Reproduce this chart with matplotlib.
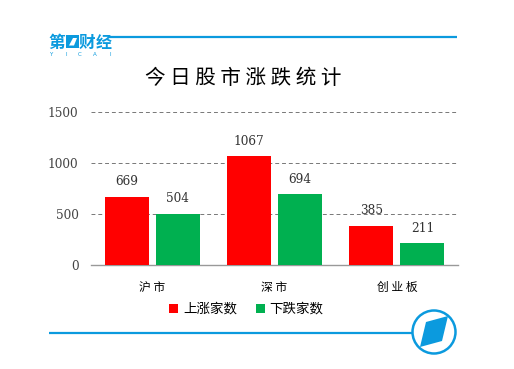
import numpy as np
import matplotlib
matplotlib.use("Agg")
import matplotlib.pyplot as plt
from matplotlib.patches import Circle, Polygon, Rectangle

W, H = 514, 369
CJK = "Noto Sans CJK SC"
SERIF = "DejaVu Serif"
BLUE = "#0b9ade"

categories = ["沪 市", "深 市", "创 业 板"]
up_counts = [669, 1067, 385]
down_counts = [504, 694, 211]
yticks = [0, 500, 1000, 1500]

fig = plt.figure(figsize=(W / 100, H / 100), dpi=100, facecolor="white")

# full-figure overlay in pixel coords, for the logo and the rules
bg = fig.add_axes([0, 0, 1, 1])
bg.set_xlim(0, W)
bg.set_ylim(H, 0)
bg.axis("off")

# --- header / footer rules ---
bg.plot([108, 457], [36.5, 36.5], color=BLUE, lw=1.6, solid_capstyle="butt")
bg.plot([49, 413], [333, 333], color=BLUE, lw=1.6, solid_capstyle="butt")

# --- top left logo ---
bg.text(56.5, 43, "第", family=CJK, fontsize=12, weight="bold", color=BLUE, ha="center", va="center")
bg.add_patch(Rectangle((66, 35), 13, 13, color=BLUE, lw=0))
bg.add_patch(Polygon([(69, 45.5), (73, 38), (77, 38), (74, 45.5)], color="white", lw=0))
bg.text(87, 43, "财", family=CJK, fontsize=12, weight="bold", color=BLUE, ha="center", va="center")
bg.text(103.5, 43, "经", family=CJK, fontsize=11.5, weight="bold", color=BLUE, ha="center", va="center")
for ch, cx in zip("YICAI", [51, 66, 80, 95, 110]):
    bg.text(cx, 54, ch, fontsize=4, color=BLUE, ha="center", va="center")

# --- bottom right badge ---
bg.add_patch(Circle((434, 332), 21.5, fc="white", ec=BLUE, lw=1.8))
bg.add_patch(Polygon([(426, 322), (448, 316), (442, 341), (420, 347)], color=BLUE, lw=0))

bg.text(243.5, 78, "今 日 股 市 涨 跌 统 计", family=CJK, fontsize=14.8, weight="medium",
        color="black", ha="center", va="center")

# --- chart ---
ax = fig.add_axes([91 / W, 1 - 265 / H, 367 / W, 153 / H])
ax.patch.set_alpha(0)
x = np.arange(len(categories))
bar_w = 0.36
off = 0.209
b1 = ax.bar(x - off, up_counts, bar_w, color="#ff0000", label="上涨家数", zorder=3)
b2 = ax.bar(x + off, down_counts, bar_w, color="#00b050", label="下跌家数", zorder=3)
for bars in (b1, b2):
    ax.bar_label(bars, padding=6, family=SERIF, fontsize=8.7, color="#333333", zorder=4)

ax.set_xlim(-0.5, 2.5)
ax.set_ylim(0, 1500)
ax.set_yticks(yticks)
ax.set_yticklabels([str(v) for v in yticks], family=SERIF, fontsize=8.7, color="#444444")
ax.set_xticks(x)
ax.set_xticklabels(categories, family=CJK, fontsize=8.5, color="black")
ax.tick_params(axis="both", length=0)
ax.tick_params(axis="x", pad=11.5)
ax.tick_params(axis="y", pad=9)
ax.grid(axis="y", color="#777777", lw=0.7, ls=(0, (4, 3)), zorder=0)
ax.spines[["top", "left", "right"]].set_visible(False)
ax.spines["bottom"].set_color("#999999")
ax.spines["bottom"].set_linewidth(1)

leg = fig.legend(loc="center", bbox_to_anchor=(246.5 / W, 1 - 309 / H), ncol=2, frameon=False,
                 prop={"family": CJK, "size": 9.7}, handlelength=0.65, handleheight=0.65,
                 handletextpad=0.37, columnspacing=1.4, borderpad=0)

fig.savefig("out.png", dpi=100)
